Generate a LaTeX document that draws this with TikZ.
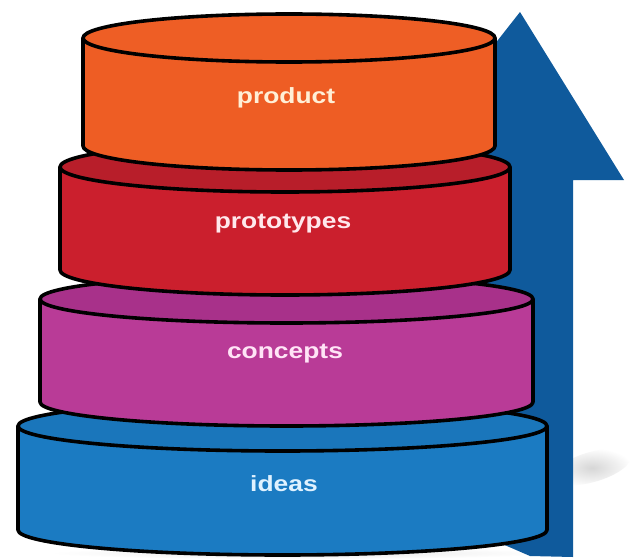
\documentclass[tikz,border=0pt]{standalone}
\usepackage{fontspec}
\setmainfont{Liberation Sans}
\definecolor{arrowblue}{HTML}{0F5A9C}
\definecolor{prodbody}{HTML}{EE5D24}
\definecolor{prodtop}{HTML}{EE5E25}
\definecolor{protobody}{HTML}{CB1F2D}
\definecolor{prototop}{HTML}{B81E2A}
\definecolor{concbody}{HTML}{B93B97}
\definecolor{conctop}{HTML}{A8318A}
\definecolor{ideabody}{HTML}{1B7BC2}
\definecolor{ideatop}{HTML}{1A76BB}
\definecolor{prodtxt}{HTML}{FFEFD6}
\definecolor{prototxt}{HTML}{FFE8EC}
\definecolor{conctxt}{HTML}{FFE4F6}
\definecolor{ideatxt}{HTML}{E0F2FF}
\tikzset{
  cylline/.style={draw=black, line width=3.6pt, line join=round},
  layertext/.style={anchor=base, inner sep=0pt, font=\fontsize{22}{26}\selectfont\bfseries}
}
\newcommand\mycyl[7]{%
  \filldraw[cylline, fill=#6] (#1-#2,#3) -- (#1-#2,#4)
     arc[start angle=180, end angle=0, x radius=#2, y radius=#5]
     -- (#1+#2,#3) -- cycle;
  \filldraw[cylline, fill=#7] (#1,#3) ellipse[x radius=#2, y radius=#5];
}
\begin{document}
\begin{tikzpicture}[x=1pt,y=-1pt]
  \fill[white] (0,0) rectangle (634,559);
  \useasboundingbox (0,0) rectangle (634,559);
  % soft shadows
  \shade[inner color=black!16, outer color=white, rotate around={16:(592,467)}]
     (592,467) ellipse[x radius=40, y radius=15];
  \shade[inner color=black!10, outer color=white]
     (300,553) ellipse[x radius=250, y radius=6];
  % arrow
  \coordinate (tip) at (520,12);
  \fill[arrowblue] (tip) -- (624,180) -- (573,180) -- (573,557) -- (530,556)
     -- (500,543) -- (467,540) -- (467,180) -- (388,180) -- cycle;
  % layers, bottom first
  \mycyl{282.5}{264.5}{426}{530}{25}{ideabody}{ideatop}
  \mycyl{286.5}{246.5}{299}{402}{24}{concbody}{conctop}
  \mycyl{285}{225}{167}{270}{25}{protobody}{prototop}
  \mycyl{289}{206}{38}{146}{24}{prodbody}{prodtop}
  % labels
  \node[layertext, text=prodtxt]  (product)    at (286,103) {\scalebox{1.2}[1]{product}};
  \node[layertext, text=prototxt] (prototypes) at (283,228) {\scalebox{1.2}[1]{prototypes}};
  \node[layertext, text=conctxt]  (concepts)   at (285,358) {\scalebox{1.2}[1]{concepts}};
  \node[layertext, text=ideatxt]  (ideas)      at (284,491) {\scalebox{1.2}[1]{ideas}};
\end{tikzpicture}
\end{document}
